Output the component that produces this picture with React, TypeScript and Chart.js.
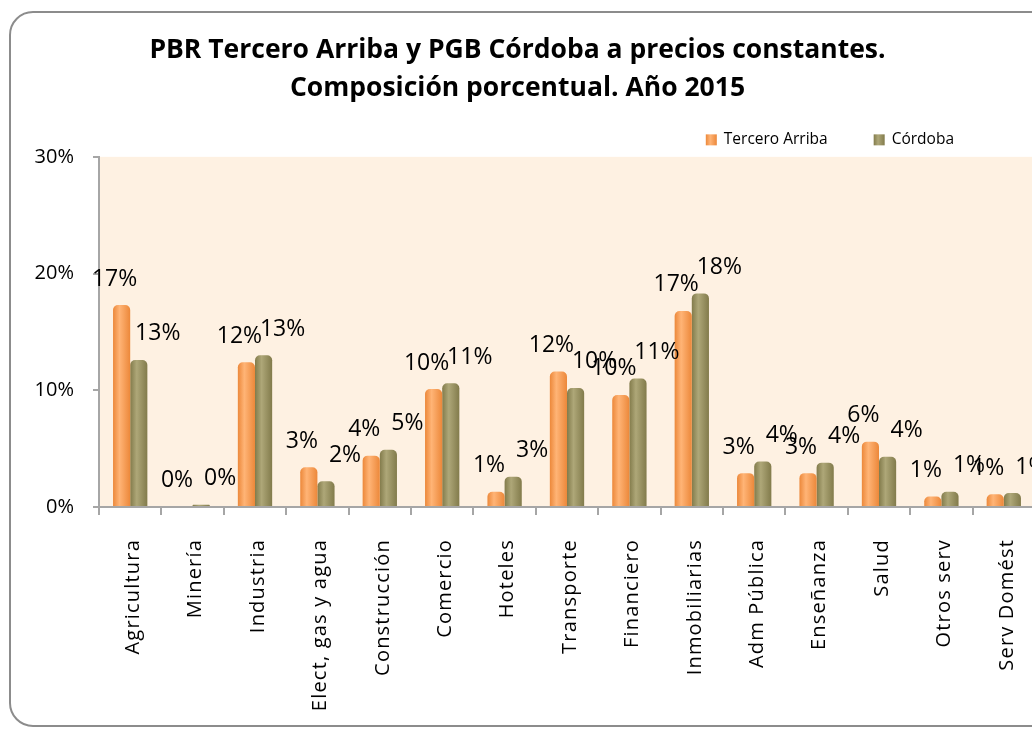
import React, { useEffect, useRef } from "react";
import { Chart, registerables } from "chart.js";

Chart.register(...registerables);

const categories = [
  "Agricultura", "Minería", "Industria", "Elect, gas y agua", "Construcción",
  "Comercio", "Hoteles", "Transporte", "Financiero", "Inmobiliarias",
  "Adm Pública", "Enseñanza", "Salud", "Otros serv", "Serv Domést",
];
const terceroArriba = [17.3, 0.05, 12.4, 3.4, 4.4, 10.1, 1.3, 11.6, 9.6, 16.8, 2.9, 2.9, 5.6, 0.9, 1.1];
const cordoba = [12.6, 0.2, 13.0, 2.2, 4.9, 10.6, 2.6, 10.2, 11.0, 18.3, 3.9, 3.8, 4.3, 1.3, 1.2];
const seriesNames = ["Tercero Arriba", "Córdoba"];
const yTicks = [0, 10, 20, 30];
const titleLines = ["PBR Tercero Arriba y PGB Córdoba a precios constantes.", "Composición porcentual. Año 2015"];

const W = 1082;
const H = 729;

const palette = [
  { dark: "#EC883A", light: "#FFB476", flat: "#F79646" },
  { dark: "#827B4B", light: "#AEA778", flat: "#948A54" },
];

export default function App() {
  const ref = useRef<HTMLCanvasElement | null>(null);
  useEffect(() => {
    document.body.style.overflow = "hidden";
    document.documentElement.style.overflow = "hidden";
    const canvas = ref.current!;
    const plotBg = {
      id: "plotBg",
      beforeDraw(chart: any) {
        const { ctx, chartArea: a } = chart;
        ctx.save();
        ctx.fillStyle = "#FEF1E2";
        ctx.fillRect(a.left, a.top, a.right - a.left, a.bottom - a.top);
        ctx.restore();
      },
    };
    const bars3d = {
      id: "bars3d",
      beforeDatasetDraw(chart: any, args: any) {
        const ctx = chart.ctx;
        const p = palette[args.index];
        ctx.save();
        for (const el of args.meta.data) {
          const { x, y, base, width } = el.getProps(["x", "y", "base", "width"], true);
          const left = x - width / 2;
          const h = base - y;
          if (h <= 0.3) continue;
          const g = ctx.createLinearGradient(left, 0, left + width, 0);
          g.addColorStop(0, p.dark);
          g.addColorStop(0.38, p.light);
          g.addColorStop(1, p.dark);
          ctx.fillStyle = g;
          const r = Math.min(5, h / 2);
          ctx.beginPath();
          ctx.roundRect(left, y, width, h, [r, r, 0, 0]);
          ctx.fill();
        }
        ctx.restore();
        return false;
      },
    };
    const valueLabels = {
      id: "valueLabels",
      afterDatasetsDraw(chart: any) {
        const ctx = chart.ctx;
        ctx.save();
        ctx.font = "23px 'Open Sans'";
        ctx.fillStyle = "#000";
        ctx.textAlign = "center";
        ctx.textBaseline = "middle";
        chart.data.datasets.forEach((ds: any, di: number) => {
          const meta = chart.getDatasetMeta(di);
          meta.data.forEach((el: any, i: number) => {
            const v = ds.data[i];
            ctx.fillText(Math.round(v) + "%", el.x + (di === 0 ? -7 : 19), el.y - 26);
          });
        });
        ctx.restore();
      },
    };
    const customLegend = {
      id: "customLegend",
      afterDraw(chart: any) {
        const ctx = chart.ctx;
        const a = chart.chartArea;
        ctx.save();
        ctx.font = "15.5px 'Open Sans'";
        ctx.textBaseline = "middle";
        ctx.textAlign = "left";
        const yMid = a.top - 17;
        let xEnd = a.right - 81;
        for (let k = seriesNames.length - 1; k >= 0; k--) {
          const name = seriesNames[k];
          const tw = ctx.measureText(name).width;
          const tx = xEnd - tw;
          const bx = tx - 18;
          const p = palette[k];
          const g = ctx.createLinearGradient(bx, 0, bx + 11, 0);
          g.addColorStop(0, p.dark);
          g.addColorStop(0.4, p.light);
          g.addColorStop(1, p.dark);
          ctx.fillStyle = g;
          ctx.fillRect(bx, yMid - 5.5, 11, 11);
          ctx.fillStyle = "#000";
          ctx.fillText(name, tx, yMid);
          xEnd = bx - 46;
        }
        ctx.restore();
      },
    };
    const axisColor = "#A6A6A6";
    const chart = new Chart(canvas, {
      type: "bar",
      data: {
        labels: categories,
        datasets: [
          { label: seriesNames[0], data: terceroArriba, backgroundColor: palette[0].flat },
          { label: seriesNames[1], data: cordoba, backgroundColor: palette[1].flat },
        ],
      },
      options: {
        animation: false,
        responsive: false,
        devicePixelRatio: 1,
        layout: { padding: { left: 0, right: W - 1035, top: 0, bottom: 0 } },
        datasets: { bar: { categoryPercentage: 0.55, barPercentage: 1 } },
        plugins: {
          legend: { display: false },
          tooltip: { enabled: false },
          title: {
            display: true,
            text: titleLines,
            color: "#000",
            font: { family: "'Open Sans'", size: 26.5, weight: "bold", lineHeight: 1.45 },
            padding: { top: 31, bottom: 49 },
          },
        },
        scales: {
          x: {
            offset: true,
            grid: { display: true, drawOnChartArea: false, drawTicks: true, tickLength: 8, color: axisColor, lineWidth: 2, offset: true },
            border: { display: true, color: axisColor, width: 2 },
            ticks: {
              color: "#000",
              font: { family: "'Open Sans'", size: 20 },
              minRotation: 90,
              maxRotation: 90,
              autoSkip: false,
              padding: 24,
            },
            afterFit: (scale: any) => {
              scale.height = H - 507;
              if (!scale._lsPatched) {
                const orig = scale.drawLabels.bind(scale);
                scale.drawLabels = (area: any) => {
                  const c = scale.ctx;
                  c.save();
                  c.letterSpacing = "1.2px";
                  c.translate(3, 0);
                  orig(area);
                  c.restore();
                };
                scale._lsPatched = true;
              }
            },
          },
          y: {
            min: yTicks[0],
            max: yTicks[yTicks.length - 1],
            afterBuildTicks: (scale: any) => {
              scale.ticks = yTicks.map((v) => ({ value: v }));
            },
            grid: { display: true, drawOnChartArea: false, drawTicks: true, tickLength: 6, color: axisColor, lineWidth: 2 },
            border: { display: true, color: axisColor, width: 2 },
            ticks: {
              color: "#000",
              font: { family: "'Open Sans'", size: 20 },
              padding: 19,
              callback: (v: any) => v + "%",
            },
            afterFit: (scale: any) => {
              scale.width = 99;
            },
          },
        },
      },
      plugins: [plotBg, bars3d, valueLabels, customLegend],
    });
    return () => chart.destroy();
  }, []);

  return (
    <div style={{ position: "fixed", left: 0, top: 0, width: W, height: H, overflow: "hidden", background: "#fff" }}>
      <div
        style={{
          position: "absolute",
          left: 9,
          top: 11,
          width: 1150,
          height: 716,
          boxSizing: "border-box",
          border: "2px solid #8C8C8C",
          borderRadius: 24,
        }}
      />
      <canvas ref={ref} width={W} height={H} style={{ position: "absolute", left: 0, top: 0, width: W, height: H }} />
    </div>
  );
}
